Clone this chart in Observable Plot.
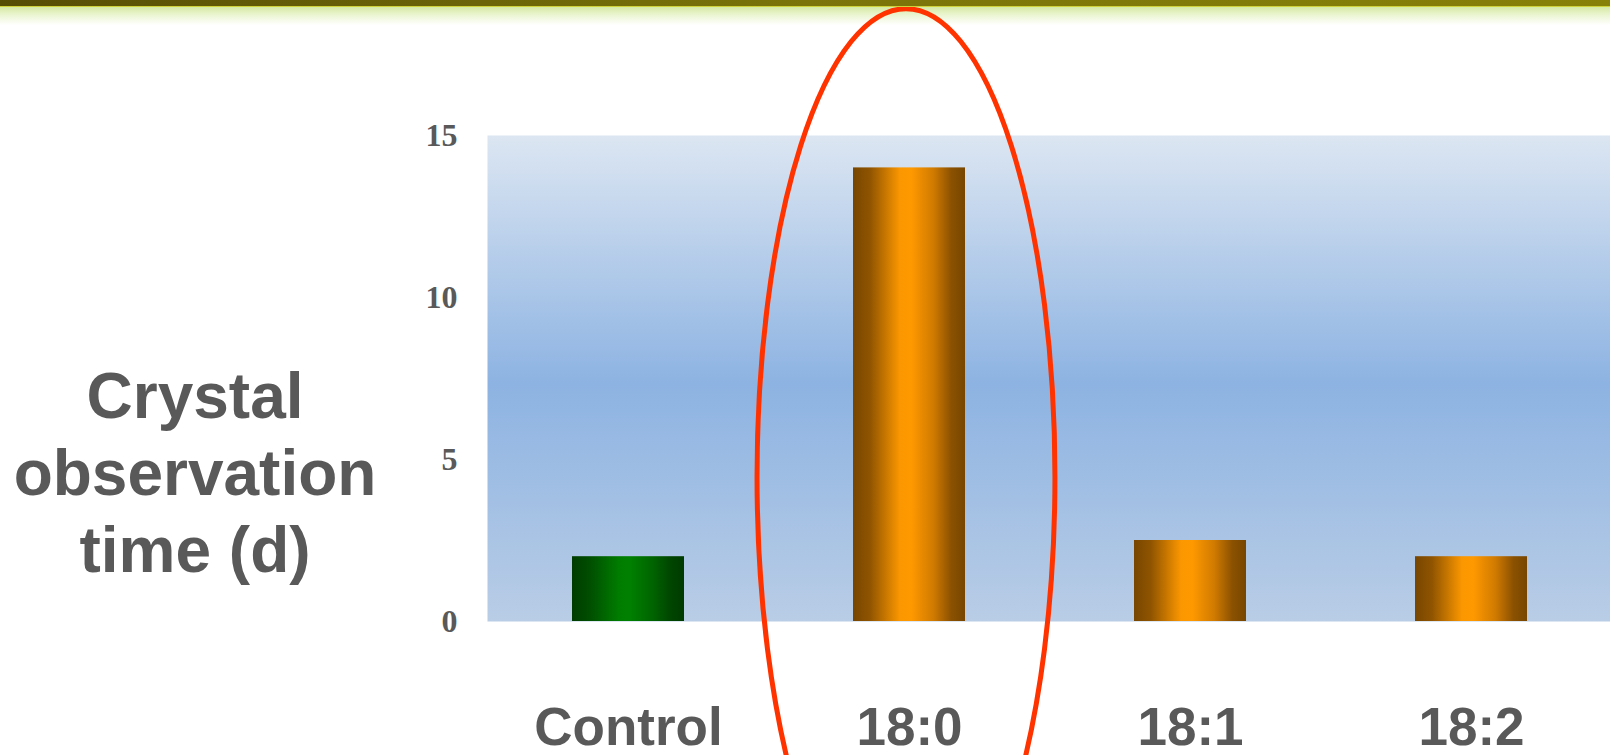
<!DOCTYPE html>
<html>
<head>
<meta charset="utf-8">
<script src="https://cdn.jsdelivr.net/npm/d3@7"></script>
<script src="https://cdn.jsdelivr.net/npm/@observablehq/plot@0.6"></script>
<style>
  html, body { margin: 0; padding: 0; background: #ffffff; overflow: hidden; }
  #page { position: relative; width: 1610px; height: 755px; overflow: hidden; }
  #band { position: absolute; left: 0; top: 0; width: 1610px; height: 6px;
          background: linear-gradient(to right, #564d05, #7a740a 50%, #878109); z-index: 2; }
  #bandline { position: absolute; left: 0; top: 6px; width: 1610px; height: 1px; background: #cfd23a; z-index: 2; }
  #glow { position: absolute; left: 0; top: 7px; width: 1610px; height: 18px;
          background: linear-gradient(to bottom, #d6eaa5, #ebf5d2 45%, #ffffff); z-index: 0; }
  #chart { position: absolute; left: 0; top: 0; z-index: 1; }
  #chart svg { background: transparent !important; }
  #ytitle { position: absolute; left: 0; top: 358px; width: 390px; text-align: center;
            font-family: "Liberation Sans", Arial, sans-serif; font-weight: bold;
            font-size: 64px; line-height: 77px; color: #595959; z-index: 3; }
</style>
</head>
<body>
<div id="page">
  <div id="glow"></div>
  <div id="chart"></div>
  <div id="band"></div>
  <div id="bandline"></div>
  <div id="ytitle">Crystal<br>observation<br>time (d)</div>
</div>
<script>
// Days until crystals were observed, per fatty acid treatment
const categories = ["Control", "18:0", "18:1", "18:2"];
const days = [2, 14, 2.5, 2];
const groups = ["control", "fatty", "fatty", "fatty"];
const yTicks = [0, 5, 10, 15];

// Highlighted treatment, with the outline's extent in data units
const highlighted = "18:0";
const highlightCenter = 4.45;
const highlightHalfHeight = 14.45;

const rows = categories.map((c, i) => ({category: c, days: days[i], group: groups[i]}));

const plot = Plot.plot({
  width: 1610,
  height: 755,
  marginLeft: 487,
  marginRight: -3,
  marginTop: 135,
  marginBottom: 134,
  style: {color: "#595959", background: "transparent", overflow: "visible"},
  x: {domain: categories, paddingInner: 0.6, paddingOuter: 0.3},
  y: {domain: [0, 15]},
  color: {type: "identity"},
  marks: [
    Plot.frame({fill: "url(#plotBg)", stroke: "none"}),
    Plot.barY(rows, {
      x: "category",
      y: "days",
      fill: d => d.group === "control" ? "url(#greenBar)" : "url(#orangeBar)"
    }),
    Plot.axisY({
      ticks: yTicks,
      tickSize: 0,
      tickPadding: 30,
      label: null,
      fontSize: 32,
      fontWeight: "bold",
      fontFamily: "'Liberation Serif', 'Times New Roman', serif",
      fill: "#595959"
    }),
    Plot.axisX({
      tickSize: 0,
      tickPadding: 86,
      label: null,
      fontSize: 53,
      fontWeight: "bold",
      fontFamily: "'Liberation Sans', Arial, sans-serif",
      fill: "#595959"
    })
  ]
});

const svg = d3.select(plot);
const defs = svg.insert("defs", ":first-child");

function gradient(id, vertical, stops) {
  const g = defs.append("linearGradient").attr("id", id)
    .attr("x1", 0).attr("y1", 0)
    .attr("x2", vertical ? 0 : 1).attr("y2", vertical ? 1 : 0);
  for (const [o, c] of stops) g.append("stop").attr("offset", o).attr("stop-color", c);
}

gradient("plotBg", true, [[0, "#dce6f2"], [0.51, "#8db3e2"], [1, "#b9cde6"]]);
gradient("orangeBar", false, [
  [0, "#784600"], [0.15, "#8f5400"], [0.42, "#fb9700"], [0.52, "#ff9900"],
  [0.72, "#cf7a00"], [0.88, "#8a5100"], [1, "#784600"]
]);
gradient("greenBar", false, [
  [0, "#003c00"], [0.15, "#004d00"], [0.42, "#007d00"], [0.52, "#008000"],
  [0.72, "#006400"], [0.88, "#004500"], [1, "#003a00"]
]);

// Outline around the highlighted treatment
const xs = plot.scale("x");
const ys = plot.scale("y");
const cx = xs.apply(highlighted) + xs.bandwidth / 2 - 3;
const cy = ys.apply(highlightCenter);
const ry = ys.apply(0) - ys.apply(highlightHalfHeight);
const rx = xs.bandwidth * 1.33;
svg.append("ellipse")
  .attr("cx", cx).attr("cy", cy).attr("rx", rx).attr("ry", ry)
  .attr("fill", "none").attr("stroke", "#ff3300").attr("stroke-width", 5);

document.getElementById("chart").appendChild(plot);
</script>
</body>
</html>
